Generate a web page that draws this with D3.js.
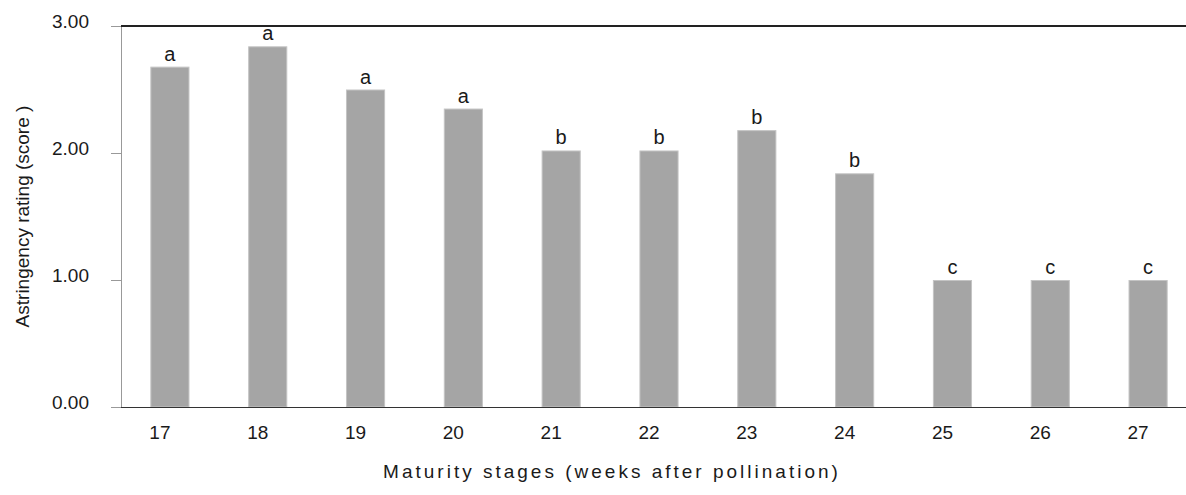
<!DOCTYPE html>
<html>
<head>
  <meta charset="utf-8">
  <title>Astringency rating</title>
  <script src="https://d3js.org/d3.v7.min.js"></script>
  <style>
    body { margin: 0; background: #fff; }
    svg text { font-family: "Liberation Sans", Arial, sans-serif; fill: #1a1a1a; }
    .barra { fill: #a5a5a5; stroke: #c4c4c4; stroke-width: 1; }
  </style>
</head>
<body>
<div id="grafico"></div>
<script>
"use strict"

// semanas apos a polinizacao
var estagios = ["17", "18", "19", "20", "21", "22", "23", "24", "25", "26", "27"];
// nota de adstringencia
var notas = [2.68, 2.84, 2.50, 2.35, 2.02, 2.02, 2.18, 1.84, 1.00, 1.00, 1.00];
// letras de significancia
var letras = ["a", "a", "a", "a", "b", "b", "b", "b", "c", "c", "c"];
var ticksY = [0, 1, 2, 3];

var larguraSVG = 1186, alturaSVG = 495;
var margin = {top: 26, left: 121, bottom: 88};
var alturaVis = alturaSVG - margin.top - margin.bottom;

var svg = d3.select("#grafico").append("svg")
    .attr("width", larguraSVG)
    .attr("height", alturaSVG);

var x = d3.scaleBand()
    .domain(estagios)
    .range([margin.left, 1197])
    .paddingInner(0.6)
    .paddingOuter(0.3);

var y = d3.scaleLinear()
    .domain([0, 3])
    .range([margin.top + alturaVis, margin.top]);

// barras
svg.selectAll(".barra")
    .data(notas)
    .enter()
    .append("rect")
    .attr("class", "barra")
    .attr("x", (d, i) => x(estagios[i]) + 0.5)
    .attr("y", d => y(d) + 0.5)
    .attr("width", x.bandwidth() - 1)
    .attr("height", d => y(0) - y(d) - 0.5);

// letras
svg.selectAll(".letra")
    .data(letras)
    .enter()
    .append("text")
    .attr("class", "letra")
    .attr("x", (d, i) => x(estagios[i]) + x.bandwidth() / 2)
    .attr("y", (d, i) => y(notas[i]) - 6)
    .attr("text-anchor", "middle")
    .style("font-size", "20px")
    .text(d => d);

// eixo y
var eixoY = svg.append("g")
    .attr("transform", "translate(" + margin.left + ",0)")
    .call(d3.axisLeft(y).tickValues(ticksY).tickSize(10).tickPadding(22).tickFormat(d3.format(".2f")));
eixoY.select(".domain").attr("stroke", "#999");
eixoY.selectAll(".tick line").attr("stroke", "#999");
eixoY.selectAll(".tick text")
    .attr("dy", "0.1em")
    .style("font-size", "19px")
    .style("font-family", "'Liberation Sans', Arial, sans-serif")
    .attr("fill", "#1a1a1a");

// linha de cima e eixo x
svg.append("line")
    .attr("x1", margin.left).attr("x2", larguraSVG)
    .attr("y1", y(3)).attr("y2", y(3))
    .attr("stroke", "#222").attr("stroke-width", 2);

var eixoX = svg.append("g")
    .attr("transform", "translate(0," + y(0) + ")")
    .call(d3.axisBottom(x).tickSize(0).tickPadding(19));
eixoX.select(".domain").attr("stroke", "#333").attr("d", "M" + margin.left + ",0.5H" + larguraSVG);
eixoX.selectAll(".tick text")
    .attr("dx", -10)
    .style("font-size", "19px")
    .style("font-family", "'Liberation Sans', Arial, sans-serif")
    .attr("fill", "#1a1a1a");

// titulos
svg.append("text")
    .attr("x", 612)
    .attr("y", 478)
    .attr("text-anchor", "middle")
    .style("font-size", "19px")
    .style("letter-spacing", "3px")
    .text("Maturity stages (weeks after pollination)");

svg.append("text")
    .attr("transform", "translate(29," + (margin.top + alturaVis / 2) + ") rotate(-90)")
    .attr("text-anchor", "middle")
    .style("font-size", "19px")
    .text("Astringency rating (score )");
</script>
</body>
</html>
